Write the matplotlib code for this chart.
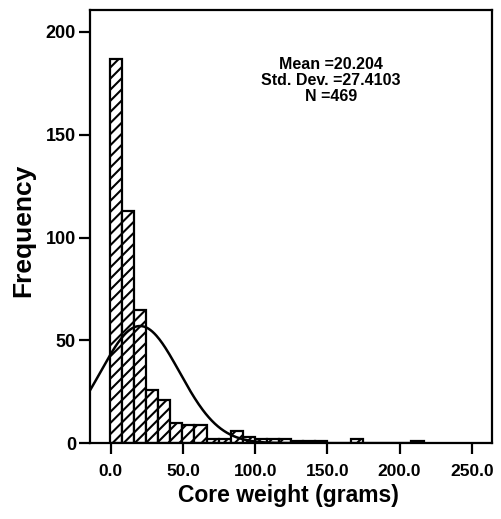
import numpy as np
import matplotlib
matplotlib.use("Agg")
import matplotlib.pyplot as plt


plt.rcParams['font.family'] = ['Liberation Sans', 'DejaVu Sans']
plt.rcParams['hatch.linewidth'] = 1.5

# Histogram (grams, frequency)
BIN_START = -0.5
BIN_WIDTH = 8.35
COUNTS = [187, 113, 65, 26, 21, 10, 9, 9, 2, 2, 6, 3, 2,
          2, 2, 1, 1, 1, 0, 0, 2, 0, 0, 0, 0, 1]

# Summary statistics printed on the chart
MEAN = 20.204
STD = 27.4103
N = 469

X_LIM = (-14.5, 264.0)
Y_LIM = (0, 210.7)
X_TICKS = [0, 50, 100, 150, 200, 250]
Y_TICKS = [0, 50, 100, 150, 200]


def main():
    fig = plt.figure(figsize=(5.02, 5.19), dpi=100)
    ax = fig.add_axes([0.179, 0.146, 0.801, 0.835])

    lefts = BIN_START + BIN_WIDTH * np.arange(len(COUNTS))
    ax.bar(lefts, COUNTS, width=BIN_WIDTH, align='edge',
           facecolor='white', edgecolor='black', linewidth=1.6,
           hatch='///')

    # Normal curve fitted from the stated mean / sd / N
    xs = np.linspace(*X_LIM, 400)
    pdf = np.exp(-0.5 * ((xs - MEAN) / STD) ** 2) / (STD * np.sqrt(2 * np.pi))
    ax.plot(xs, N * BIN_WIDTH * pdf, color='black', linewidth=1.8)

    ax.set_xlim(X_LIM)
    ax.set_ylim(Y_LIM)
    ax.set_xticks(X_TICKS)
    ax.set_xticklabels([f"{t:.1f}" for t in X_TICKS])
    ax.set_yticks(Y_TICKS)
    ax.tick_params(direction='out', width=1.6, labelsize=12.5)
    ax.tick_params(axis='x', length=8, pad=7)
    ax.tick_params(axis='y', length=8, pad=2, labelsize=13)
    for lbl in ax.get_xticklabels() + ax.get_yticklabels():
        lbl.set_fontweight('bold')
    for spine in ax.spines.values():
        spine.set_linewidth(1.6)

    ax.set_xlabel("Core weight (grams)", fontsize=16.5, fontweight='bold')
    ax.set_ylabel("Frequency", fontsize=19, fontweight='bold')
    ax.xaxis.set_label_coords(0.495, -0.094)
    ax.yaxis.set_label_coords(-0.135, 0.492)

    ax.text(0.60, 0.892,
            f"Mean ={MEAN}\nStd. Dev. ={STD}\nN ={N}",
            transform=ax.transAxes, ha='center', va='top',
            fontsize=11.5, fontweight='bold', linespacing=1.08)

    fig.savefig("out.png", dpi=100)


if __name__ == "__main__":
    main()
